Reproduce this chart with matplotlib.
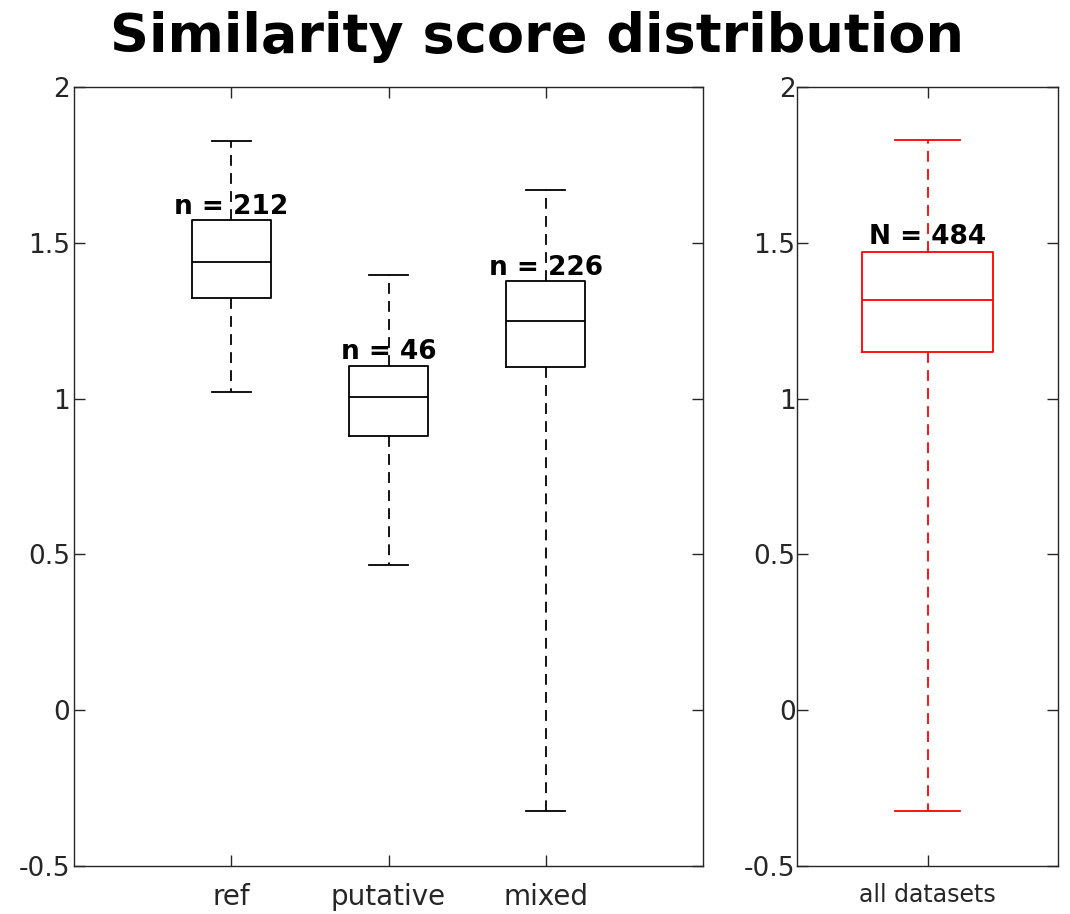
import matplotlib
matplotlib.use('Agg')
import matplotlib.pyplot as plt

# group boxes: whisker low, q1, median, q3, whisker high
groups = ['ref', 'putative', 'mixed']
counts = [212, 46, 226]
whislo = [1.022, 0.466, -0.324]
q1 = [1.324, 0.880, 1.100]
med = [1.439, 1.005, 1.250]
q3 = [1.573, 1.106, 1.377]
whishi = [1.828, 1.397, 1.668]

# pooled box over every dataset
all_label = 'all datasets'
all_count = 484
all_stats = [-0.324, 1.150, 1.317, 1.472, 1.829]

yticks = [-0.5, 0, 0.5, 1, 1.5, 2]
ytick_labels = ['-0.5', '0', '0.5', '1', '1.5', '2']

W, H = 1070, 914
fig = plt.figure(figsize=(W / 100, H / 100), dpi=100)
ax1 = fig.add_axes([74 / W, 48 / H, 629 / W, 779 / H])
ax2 = fig.add_axes([797 / W, 48 / H, 261 / W, 779 / H])

axis_col = '#262626'


def draw_boxes(ax, stats, positions, color, tickfont, ylabpad):
    ax.bxp(stats, positions=positions, widths=0.5, showfliers=False,
           boxprops=dict(color=color, linewidth=1.3),
           medianprops=dict(color=color, linewidth=1.3),
           whiskerprops=dict(color=color, linewidth=1.3, linestyle=(0, (6, 4))),
           capprops=dict(color=color, linewidth=1.3),
           capwidths=0.25)
    ax.set_ylim(-0.5, 2)
    ax.set_yticks(yticks)
    ax.set_yticklabels(ytick_labels)
    for s in ax.spines.values():
        s.set_color(axis_col)
        s.set_linewidth(1.0)
    ax.tick_params(axis='both', direction='in', length=8, width=1.0,
                   color=axis_col, labelcolor=axis_col, top=True, right=True)
    ax.tick_params(axis='y', labelsize=19, pad=ylabpad)
    ax.tick_params(axis='x', labelsize=tickfont, pad=12)


stats = []
for i, g in enumerate(groups):
    stats.append(dict(label=g, whislo=whislo[i], q1=q1[i], med=med[i],
                      q3=q3[i], whishi=whishi[i]))
positions = list(range(1, len(groups) + 1))
draw_boxes(ax1, stats, positions, 'black', 20, 3)
ax1.set_xlim(0, len(groups) + 1)
for p, n, top in zip(positions, counts, q3):
    ax1.annotate('n = %d' % n, (p, top), xytext=(0, 4.5), textcoords='offset points',
                 ha='center', va='baseline', fontsize=19, fontweight='bold')

lo, a_q1, a_med, a_q3, hi = all_stats
draw_boxes(ax2, [dict(label=all_label, whislo=lo, q1=a_q1, med=a_med, q3=a_q3, whishi=hi)],
           [1], 'red', 17, 1)
ax2.set_xlim(0.5, 1.5)
ax2.annotate('N = %d' % all_count, (1, a_q3), xytext=(0, 5.5), textcoords='offset points',
             ha='center', va='baseline', fontsize=19, fontweight='bold')

fig.text(0.502, 1 - 37 / H, 'Similarity score distribution', ha='center', va='center',
         fontsize=39, fontweight='bold')

fig.savefig('out.png', dpi=100)
